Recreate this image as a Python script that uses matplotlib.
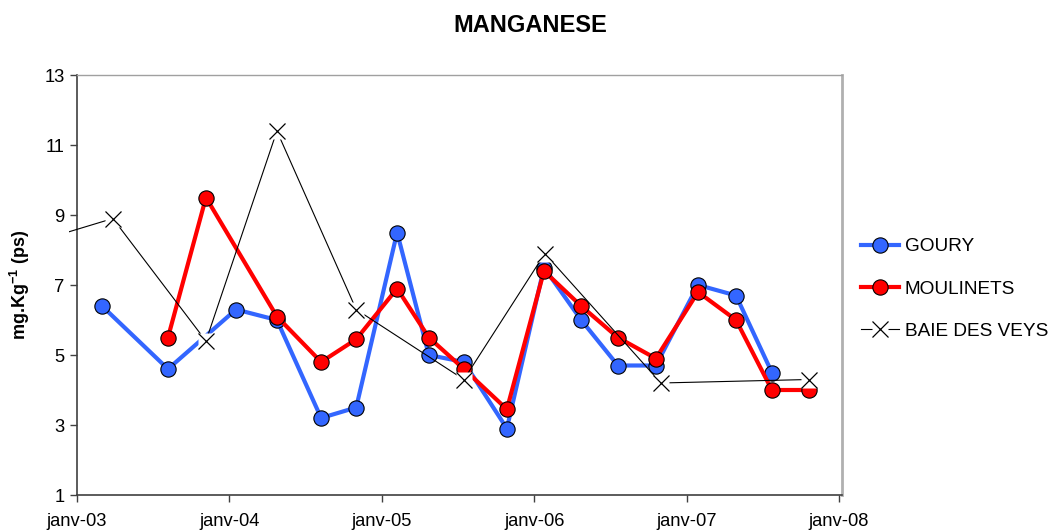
import matplotlib
matplotlib.use("Agg")
import matplotlib.pyplot as plt
import matplotlib.dates as mdates
from matplotlib.transforms import Bbox, TransformedBbox
import numpy as np
import datetime as dt

plt.rcParams['font.family'] = ['Liberation Sans', 'DejaVu Sans']
plt.rcParams['mathtext.fontset'] = 'custom'
plt.rcParams['mathtext.rm'] = 'Liberation Sans'
plt.rcParams['mathtext.bf'] = 'Liberation Sans:bold'

# ---- data ----
goury_dates = ["2003-03-02", "2003-08-07", "2004-01-17", "2004-04-24", "2004-08-08",
               "2004-10-31", "2005-02-06", "2005-04-23", "2005-07-16", "2005-10-27",
               "2006-01-24", "2006-04-23", "2006-07-20", "2006-10-19", "2007-01-28",
               "2007-04-29", "2007-07-24"]
goury_values = [6.4, 4.6, 6.3, 6.0, 3.2, 3.5, 8.5, 5.0, 4.8, 2.9, 7.5, 6.0, 4.7, 4.7,
                7.0, 6.7, 4.5]

moulinets_dates = ["2003-08-07", "2003-11-06", "2004-04-24", "2004-08-08", "2004-10-31",
                   "2005-02-06", "2005-04-23", "2005-07-16", "2005-10-27", "2006-01-24",
                   "2006-04-23", "2006-07-20", "2006-10-19", "2007-01-28", "2007-04-29",
                   "2007-07-24", "2007-10-21"]
moulinets_values = [5.5, 9.5, 6.1, 4.8, 5.45, 6.9, 5.5, 4.6, 3.45, 7.4, 6.4, 5.5, 4.9,
                    6.8, 6.0, 4.0, 4.0]

baie_dates = ["2002-09-15", "2003-03-28", "2003-11-06", "2004-04-24", "2004-10-31",
              "2005-07-16", "2006-01-26", "2006-10-31", "2007-10-21"]
baie_values = [8.2, 8.9, 5.4, 11.4, 6.3, 4.3, 7.9, 4.2, 4.3]

year_ticks = ["2003-01-01", "2004-01-01", "2005-01-01", "2006-01-01", "2007-01-01", "2008-01-01"]
year_labels = ["janv-03", "janv-04", "janv-05", "janv-06", "janv-07", "janv-08"]
y_ticks = [1, 3, 5, 7, 9, 11, 13]

def to_dates(lst):
    return [dt.datetime.strptime(s, "%Y-%m-%d") for s in lst]

W, H = 1053, 531
fig = plt.figure(figsize=(W / 100, H / 100), dpi=100)
ax = fig.add_axes([77 / W, 1 - 495 / H, (842 - 77) / W, (495 - 75) / H])

blue = '#3366FF'
red = '#FF0000'

gd = to_dates(goury_dates)
md = to_dates(moulinets_dates)
bd = to_dates(baie_dates)

l_g, = ax.plot(gd, goury_values, color=blue, lw=3, marker='o', ms=11,
               mfc=blue, mec='black', mew=0.8, zorder=3, label='GOURY')
l_m, = ax.plot(md, moulinets_values, color=red, lw=3, marker='o', ms=11,
               mfc=red, mec='black', mew=0.8, zorder=4, label='MOULINETS')
l_b, = ax.plot(bd, baie_values, color='black', lw=0.8, zorder=5)
l_bw, = ax.plot(bd, baie_values, ls='none', marker='s', ms=11.5, mfc='white',
                mec='none', zorder=6)
l_bx, = ax.plot(bd, baie_values, ls='none', marker='x', ms=12, mec='black',
                mew=0.9, zorder=7)

clip = TransformedBbox(Bbox([[-0.011, 0], [1, 1]]), ax.transAxes)
l_b.set_clip_box(clip)

x0 = dt.datetime(2003, 1, 1)
x1 = dt.datetime(2008, 1, 1) + dt.timedelta(days=7)
ax.set_xlim(x0, x1)
ax.set_ylim(1, 13)

ax.set_xticks(to_dates(year_ticks))
ax.set_xticklabels(year_labels)
ax.set_yticks(y_ticks)
ax.set_yticklabels([str(v) for v in y_ticks])

ax.tick_params(axis='both', direction='out', length=5, width=1, color='#404040',
               labelsize=13.2)
ax.tick_params(axis='x', pad=8)
ax.tick_params(axis='y', pad=4)

for s in ['left', 'bottom']:
    ax.spines[s].set_color('#404040')
    ax.spines[s].set_linewidth(1.2)
ax.spines['top'].set_color('#a0a0a0')
ax.spines['top'].set_linewidth(1.0)
ax.spines['right'].set_color('#b0b0b0')
ax.spines['right'].set_linewidth(2.0)

ax.set_ylabel(r"mg.Kg$^{\mathbf{-1}}$ (ps)", fontsize=13, fontweight='bold', labelpad=9)

fig.text(530 / W, 1 - 25 / H, "MANGANESE", ha='center', va='center',
         fontsize=17, fontweight='bold')

leg = fig.legend([l_g, l_m, (l_b, l_bw, l_bx)], ['GOURY', 'MOULINETS', 'BAIE DES VEYS'],
                 loc='upper left', bbox_to_anchor=(861 / W, 1 - 238 / H),
                 frameon=False, fontsize=13.7, handlelength=2.0, handletextpad=0.3,
                 labelspacing=1.31, borderaxespad=0, borderpad=0, numpoints=1)

fig.savefig("out.png", dpi=100)
